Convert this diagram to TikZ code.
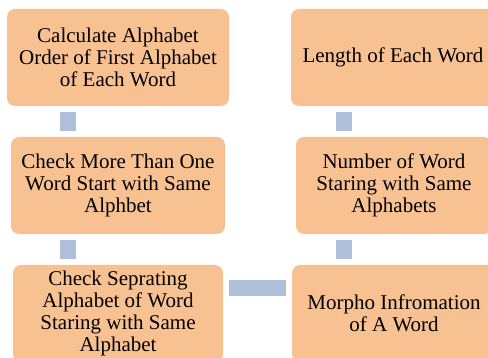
\documentclass[tikz,border=0pt]{standalone}
\usepackage{fontspec}
\setmainfont{Liberation Serif}
\usepackage{tikz}
\usetikzlibrary{calc,positioning}
\definecolor{boxfill}{RGB}{248,193,145}
\definecolor{linkblue}{RGB}{176,191,217}
\tikzset{
    auto,semithick,
    stage/.style={rectangle, rounded corners=8pt, fill=boxfill, draw=none,
                  minimum height=97pt, inner sep=0pt, align=center,
                  font=\fontsize{21}{22.3}\selectfont},
    link/.style={draw=linkblue, line width=16pt, shorten <=5.5pt, shorten >=5.5pt}
}

\begin{document}
\begin{tikzpicture}[
  x=1pt, y=1pt,
  every node/.style={text=black}
]
\useasboundingbox (0,0) rectangle (488,358);
\clip (0,0) rectangle (488,358);

% ---- left column ----
\node[stage, minimum width=222pt] (A) at (118,300.5) {Calculate Alphabet\\Order of First Alphabet\\of Each Word};
\node[stage, minimum width=214pt] (B) at (118,172.5) {Check More Than One\\Word Start with Same\\Alphbet};
\node[stage, minimum width=210pt] (C) at (118,44.5) {Check Seprating\\Alphabet of Word\\Staring with Same\\Alphabet};

% ---- right column ----
\node[stage, minimum width=204pt] (D) at (393,300.5) {Length of Each Word};
\node[stage, minimum width=196pt] (E) at (394,172.5) {Number of Word\\Staring with Same\\Alphabets};
\node[stage, minimum width=204pt] (F) at (394,44.5) {Morpho Infromation\\of A Word};

% ---- connector tracks ----
\coordinate (colL) at (68,0);
\coordinate (colR) at (344,0);
\coordinate (rowH) at (0,70);

% ---- connectors ----
\draw[link] (A.south -| colL) -- (B.north -| colL);
\draw[link] (B.south -| colL) -- (C.north -| colL);
\draw[link] (D.south -| colR) -- (E.north -| colR);
\draw[link] (E.south -| colR) -- (F.north -| colR);
\draw[link] (C.east |- rowH) -- (F.west |- rowH);

\end{tikzpicture}
\end{document}
